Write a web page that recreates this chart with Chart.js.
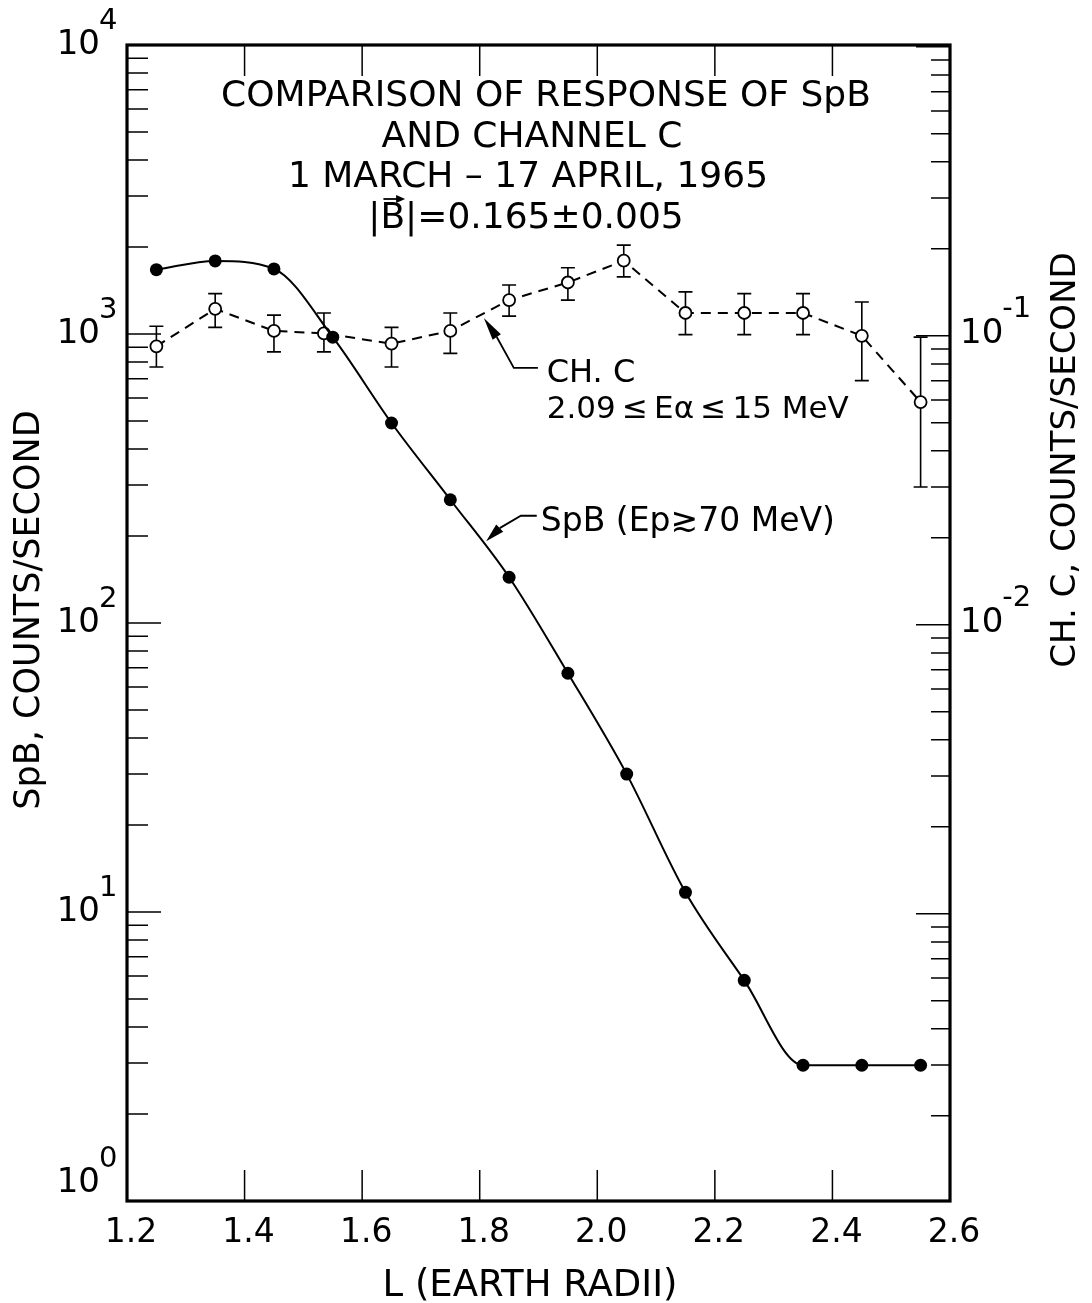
<!DOCTYPE html>
<html lang="en">
<head>
<meta charset="UTF-8" />
<title>SpB and Channel C response, 1 March - 17 April 1965</title>
<script src="https://cdn.jsdelivr.net/npm/chart.js"></script>
<style>
  html, body { margin: 0; padding: 0; background: #fff; }
  #wrap { width: 1092px; height: 1303px; }
</style>
</head>
<body>
<div id="wrap"><canvas id="chart" width="1092" height="1303"></canvas></div>
<script>
// L shells (earth radii) of the binned points
const lPoints = [1.25, 1.35, 1.45, 1.55, 1.65, 1.75, 1.85, 1.95, 2.05, 2.15, 2.25, 2.35, 2.45, 2.55];
// SpB rate, counts/second (left axis)
const spbRate = [1670, 1790, 1680, 975, 492, 267, 144, 67, 30, 11.7, 5.8, 2.95, 2.95, 2.95];

// Channel C bins and rate, counts/second (right axis), with error limits
const chcPoints = [1.25, 1.35, 1.45, 1.535, 1.65, 1.75, 1.85, 1.95, 2.045, 2.15, 2.25, 2.35, 2.45, 2.55];
const chcRate  = [0.092, 0.124, 0.104, 0.102, 0.094, 0.104, 0.133, 0.153, 0.182, 0.120, 0.120, 0.120, 0.100, 0.059];
const chcUpper = [0.108, 0.140, 0.118, 0.120, 0.107, 0.120, 0.150, 0.172, 0.206, 0.142, 0.140, 0.140, 0.131, 0.099];
const chcLower = [0.078, 0.107, 0.088, 0.088, 0.078, 0.087, 0.117, 0.133, 0.160, 0.101, 0.101, 0.101, 0.070, 0.030];

// axis labelling
const lTicks = [1.2, 1.4, 1.6, 1.8, 2.0, 2.2, 2.4, 2.6];
const spbExponents = [0, 1, 2, 3, 4];
const chcExponents = [-1, -2];

const titleLines = [
  'COMPARISON OF RESPONSE OF SpB',
  'AND CHANNEL C',
  '1 MARCH \u2013 17 APRIL, 1965',
  '|B|=0.165\u00b10.005'
];

const FONT = '"DejaVu Sans", sans-serif';

function font(size) { return size + 'px ' + FONT; }

function wedge(ctx, x0, y0, x1, y1, half) {
  // filled arrow head, tip at (x0, y0)
  const dx = x1 - x0, dy = y1 - y0;
  const len = Math.hypot(dx, dy);
  const nx = -dy / len * half, ny = dx / len * half;
  ctx.beginPath();
  ctx.moveTo(x0, y0);
  ctx.lineTo(x1 + nx, y1 + ny);
  ctx.lineTo(x1 - nx, y1 - ny);
  ctx.closePath();
  ctx.fill();
}

function power(ctx, exp, x, y, side) {
  // "10" with a raised exponent; side tells which way from x it grows
  ctx.textBaseline = 'middle';
  if (side === 'left') {
    ctx.font = font(34);
    ctx.textAlign = 'right';
    ctx.fillText('10', x, y);
    ctx.font = font(29);
    ctx.textAlign = 'left';
    ctx.fillText(String(exp), x - 1, y - 24);
  } else {
    ctx.font = font(34);
    ctx.textAlign = 'left';
    ctx.fillText('10', x, y);
    const w = ctx.measureText('10').width;
    ctx.font = font(29);
    ctx.fillText('-' + Math.abs(exp), x + w - 1, y - 24);
  }
}

const chcErrorBars = {
  id: 'chcErrorBars',
  beforeDatasetsDraw(chart) {
    const { ctx, scales: { x, yr } } = chart;
    ctx.save();
    ctx.strokeStyle = '#000';
    ctx.lineWidth = 1.6;
    chcPoints.forEach((l, i) => {
      const px = x.getPixelForValue(l);
      const top = yr.getPixelForValue(chcUpper[i]);
      const bot = yr.getPixelForValue(chcLower[i]);
      ctx.beginPath();
      ctx.moveTo(px, top); ctx.lineTo(px, bot);
      ctx.moveTo(px - 7, top); ctx.lineTo(px + 7, top);
      ctx.moveTo(px - 7, bot); ctx.lineTo(px + 7, bot);
      ctx.stroke();
    });
    ctx.restore();
  }
};

const frame = {
  id: 'frame',
  afterDraw(chart) {
    const { ctx, chartArea: a, scales: { x, y, yr } } = chart;
    ctx.save();
    ctx.strokeStyle = '#000';
    ctx.fillStyle = '#000';

    // inward tick marks
    ctx.lineWidth = 1.5;
    ctx.beginPath();
    for (let e = 0; e < 4; e++) {
      for (let m = 1; m <= 9; m++) {
        const py = y.getPixelForValue(m * Math.pow(10, e));
        const len = m === 1 ? 34 : 21;
        ctx.moveTo(a.left, py); ctx.lineTo(a.left + len, py);
      }
    }
    for (let e = -4; e <= 0; e++) {
      for (let m = 1; m <= 9; m++) {
        const v = m * Math.pow(10, e);
        if (v < yr.min || v > yr.max) continue;
        const py = yr.getPixelForValue(v);
        const len = m === 1 ? 34 : 19;
        ctx.moveTo(a.right, py); ctx.lineTo(a.right - len, py);
      }
    }
    lTicks.slice(1, -1).forEach(l => {
      const px = x.getPixelForValue(l);
      ctx.moveTo(px, a.bottom); ctx.lineTo(px, a.bottom - 31);
      ctx.moveTo(px, a.top); ctx.lineTo(px, a.top + 31);
    });
    ctx.stroke();

    // heavy border
    ctx.lineWidth = 3.2;
    ctx.strokeRect(a.left, a.top, a.right - a.left, a.bottom - a.top);

    // left decade labels
    spbExponents.forEach(e => {
      const py = Math.min(y.getPixelForValue(Math.pow(10, e)), a.bottom - 18);
      power(ctx, e, 100, py, 'left');
    });
    // right decade labels
    chcExponents.forEach(e => {
      const py = yr.getPixelForValue(Math.pow(10, e));
      power(ctx, e, 960, py - 2, 'right');
    });

    // L tick labels
    ctx.font = font(33);
    ctx.textAlign = 'center';
    ctx.textBaseline = 'middle';
    lTicks.forEach(l => {
      ctx.fillText(l.toFixed(1), x.getPixelForValue(l) + 4, a.bottom + 32);
    });
    ctx.font = font(37);
    ctx.fillText('L (EARTH RADII)', 530, 1286);

    // axis titles
    ctx.font = font(35);
    ctx.save();
    ctx.translate(30, 610);
    ctx.rotate(-Math.PI / 2);
    ctx.fillText('SpB, COUNTS/SECOND', 0, 0);
    ctx.restore();
    ctx.font = font(34);
    ctx.save();
    ctx.translate(1066, 460);
    ctx.rotate(-Math.PI / 2);
    ctx.fillText('CH. C, COUNTS/SECOND', 0, 0);
    ctx.restore();

    // title block
    ctx.font = font(36);
    const centres = [546, 532, 528, 526];
    titleLines.forEach((t, i) => ctx.fillText(t, centres[i], 97 + i * 40.5));
    // vector arrow over the B of |B|
    const t4 = titleLines[3];
    const w4 = ctx.measureText(t4).width;
    const bx = centres[3] - w4 / 2 + ctx.measureText('|').width;
    const bw = ctx.measureText('B').width;
    ctx.lineWidth = 1.8;
    ctx.beginPath();
    ctx.moveTo(bx + 3, 199); ctx.lineTo(bx + bw - 4, 199);
    ctx.stroke();
    wedge(ctx, bx + bw, 199, bx + bw - 9, 199, 4);

    // CH. C callout
    const cTip = [x.getPixelForValue(1.807), y.getPixelForValue(1136)];
    const cBase = [x.getPixelForValue(1.829), y.getPixelForValue(976)];
    const cElbow = [x.getPixelForValue(1.858), y.getPixelForValue(763)];
    const cEnd = [x.getPixelForValue(1.899), y.getPixelForValue(763)];
    wedge(ctx, cTip[0], cTip[1], cBase[0], cBase[1], 5);
    ctx.lineWidth = 1.8;
    ctx.beginPath();
    ctx.moveTo(cBase[0], cBase[1]); ctx.lineTo(cElbow[0], cElbow[1]); ctx.lineTo(cEnd[0], cEnd[1]);
    ctx.stroke();
    ctx.textAlign = 'left';
    ctx.textBaseline = 'alphabetic';
    ctx.font = font(32);
    ctx.fillText('CH. C', x.getPixelForValue(1.914), y.getPixelForValue(682));
    ctx.font = font(31);
    ctx.fillText('2.09\u2009\u2264\u2009E\u03b1\u2009\u2264\u200915 MeV', x.getPixelForValue(1.914), y.getPixelForValue(512));

    // SpB callout
    const sTip = [x.getPixelForValue(1.811), y.getPixelForValue(192)];
    const sBase = [x.getPixelForValue(1.834), y.getPixelForValue(213)];
    const sElbow = [x.getPixelForValue(1.870), y.getPixelForValue(235)];
    const sEnd = [x.getPixelForValue(1.897), y.getPixelForValue(235)];
    wedge(ctx, sTip[0], sTip[1], sBase[0], sBase[1], 5);
    ctx.beginPath();
    ctx.moveTo(sBase[0], sBase[1]); ctx.lineTo(sElbow[0], sElbow[1]); ctx.lineTo(sEnd[0], sEnd[1]);
    ctx.stroke();
    ctx.font = font(33);
    ctx.fillText('SpB (Ep\u227370 MeV)', x.getPixelForValue(1.904), y.getPixelForValue(208));

    ctx.restore();
  }
};

new Chart(document.getElementById('chart').getContext('2d'), {
  type: 'line',
  data: {
    datasets: [
      {
        label: 'SpB',
        data: lPoints.map((l, i) => ({ x: l, y: spbRate[i] })),
        yAxisID: 'y',
        borderColor: '#000',
        borderWidth: 2,
        cubicInterpolationMode: 'monotone',
        pointRadius: 6.5,
        pointBackgroundColor: '#000',
        pointBorderColor: '#000',
        pointBorderWidth: 0
      },
      {
        label: 'CH. C',
        data: chcPoints.map((l, i) => ({ x: l, y: chcRate[i] })),
        yAxisID: 'yr',
        borderColor: '#000',
        borderWidth: 2,
        borderDash: [10, 7],
        tension: 0,
        pointRadius: 6,
        pointBackgroundColor: '#fff',
        pointBorderColor: '#000',
        pointBorderWidth: 1.8
      }
    ]
  },
  options: {
    responsive: false,
    animation: false,
    events: [],
    layout: { padding: { left: 127, top: 45, right: 142, bottom: 102 } },
    plugins: { legend: { display: false }, tooltip: { enabled: false } },
    scales: {
      x: { type: 'linear', min: 1.2, max: 2.6, display: false },
      y: { type: 'logarithmic', min: 1, max: 10000, display: false },
      yr: { type: 'logarithmic', position: 'right', min: 1.015e-4, max: 1.015, display: false }
    }
  },
  plugins: [chcErrorBars, frame]
});
</script>
</body>
</html>
